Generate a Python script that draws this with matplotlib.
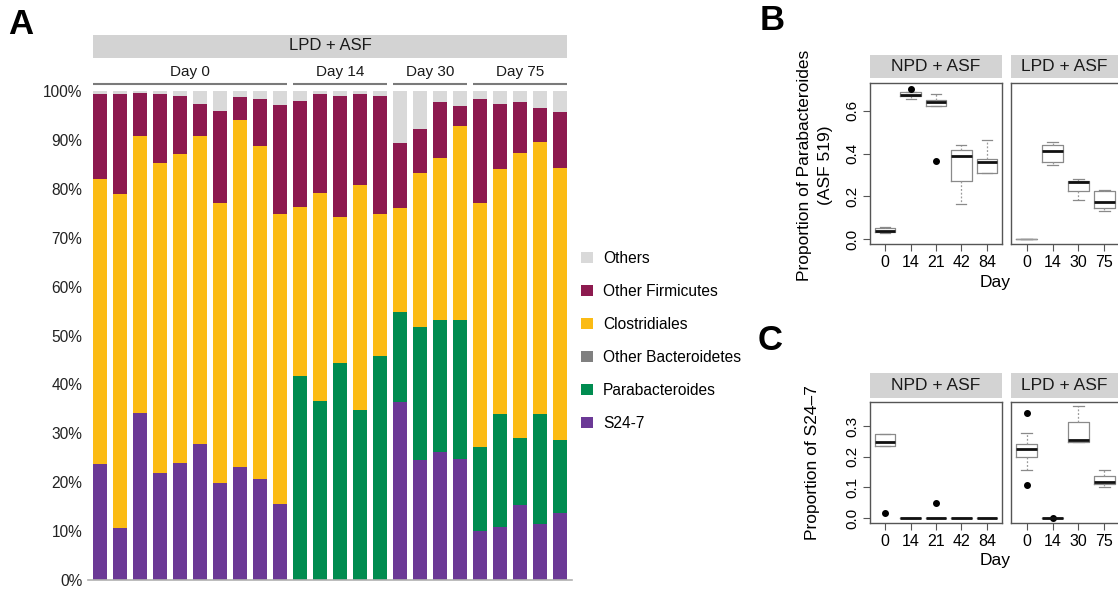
import matplotlib
matplotlib.use("Agg")
import matplotlib.pyplot as plt
import matplotlib.transforms as mtransforms
from matplotlib.patches import Rectangle

plt.rcParams['font.family'] = ['Liberation Sans', 'DejaVu Sans']

W, H = 1118, 592

# --- Panel A: relative abundance per mouse (percent of reads) ---
day_groups = ['Day 0', 'Day 14', 'Day 30', 'Day 75']
group_sizes = [10, 5, 4, 5]

s24_7 = [23.7, 10.6, 34.2, 21.9, 23.9, 27.8, 19.8, 23.1, 20.7, 15.5,
         0.0, 0.0, 0.0, 0.0, 0.0,
         36.4, 24.5, 26.1, 24.7,
         10.0, 10.9, 15.4, 11.4, 13.8]
parabacteroides = [0.0, 0.0, 0.0, 0.0, 0.0, 0.0, 0.0, 0.0, 0.0, 0.0,
                   41.7, 36.7, 44.3, 34.8, 45.9,
                   18.5, 27.3, 27.0, 28.4,
                   17.3, 23.1, 13.6, 22.6, 14.9]
other_bacteroidetes = [0.0, 0.0, 0.0, 0.0, 0.0, 0.0, 0.0, 0.0, 0.0, 0.0,
                       0.0, 0.0, 0.0, 0.0, 0.0,
                       0.0, 0.0, 0.0, 0.0,
                       0.0, 0.0, 0.0, 0.0, 0.0]
clostridiales = [58.3, 68.3, 56.6, 63.3, 63.2, 63.0, 57.2, 71.0, 68.1, 59.4,
                 34.5, 42.5, 30.0, 45.9, 29.0,
                 21.1, 31.5, 33.2, 39.7,
                 49.7, 50.0, 58.4, 55.6, 55.5]
other_firmicutes = [17.3, 20.4, 8.8, 14.1, 11.8, 6.5, 19.0, 4.7, 9.6, 22.3,
                    21.8, 20.2, 24.7, 18.7, 24.0,
                    13.3, 9.0, 11.5, 4.2,
                    21.4, 13.4, 10.4, 6.9, 11.6]
others = [0.7, 0.7, 0.4, 0.7, 1.1, 2.7, 4.0, 1.2, 1.6, 2.8,
          2.0, 0.6, 1.0, 0.6, 1.1,
          10.7, 7.7, 2.2, 3.0,
          1.6, 2.6, 2.2, 3.5, 4.2]

taxa = ['S24-7', 'Parabacteroides', 'Other Bacteroidetes',
        'Clostridiales', 'Other Firmicutes', 'Others']
taxa_values = [s24_7, parabacteroides, other_bacteroidetes,
               clostridiales, other_firmicutes, others]
taxa_colors = ['#6b3996', '#008c50', '#808080', '#fbbb14', '#8d1a4f', '#d9d9d9']

# --- Panel B: Parabacteroides proportion, box stats per day ---
npd_days = ['0', '14', '21', '42', '84']
lpd_days = ['0', '14', '30', '75']

b_npd_med = [0.040, 0.675, 0.640, 0.390, 0.363]
b_npd_q1 = [0.033, 0.667, 0.623, 0.270, 0.308]
b_npd_q3 = [0.053, 0.690, 0.651, 0.418, 0.377]
b_npd_lo = [0.030, 0.656, 0.623, 0.165, 0.308]
b_npd_hi = [0.059, 0.690, 0.680, 0.440, 0.464]
b_npd_out = [[], [0.703], [0.365], [], []]

b_lpd_med = [0.0, 0.414, 0.268, 0.173]
b_lpd_q1 = [0.0, 0.363, 0.226, 0.146]
b_lpd_q3 = [0.0, 0.441, 0.273, 0.226]
b_lpd_lo = [0.0, 0.347, 0.184, 0.132]
b_lpd_hi = [0.0, 0.456, 0.282, 0.230]
b_lpd_out = [[], [], [], []]

# --- Panel C: S24-7 proportion ---
c_npd_med = [0.249, 0.0, 0.0, 0.0, 0.0]
c_npd_q1 = [0.236, 0.0, 0.0, 0.0, 0.0]
c_npd_q3 = [0.273, 0.0, 0.0, 0.0, 0.0]
c_npd_lo = [0.236, 0.0, 0.0, 0.0, 0.0]
c_npd_hi = [0.273, 0.0, 0.0, 0.0, 0.0]
c_npd_out = [[0.016], [], [0.049], [], []]

c_lpd_med = [0.227, 0.0, 0.254, 0.117]
c_lpd_q1 = [0.200, 0.0, 0.247, 0.110]
c_lpd_q3 = [0.243, 0.0, 0.313, 0.139]
c_lpd_lo = [0.157, 0.0, 0.247, 0.103]
c_lpd_hi = [0.279, 0.0, 0.365, 0.157]
c_lpd_out = [[0.343, 0.107], [0.0], [], []]


def px_rect(l, t, r, b):
    return [l / W, 1 - b / H, (r - l) / W, (b - t) / H]


fig = plt.figure(figsize=(W / 100, H / 100), dpi=100)
fig.patch.set_facecolor('white')

# ---------------- Panel A ----------------
axA = fig.add_axes(px_rect(88, 91, 572, 580))
n = len(s24_7)
x = list(range(n))
bottom = [0.0] * n
for name, vals, col in zip(taxa, taxa_values, taxa_colors):
    axA.bar(x, vals, bottom=bottom, width=0.7, color=col, label=name, linewidth=0)
    bottom = [b + v for b, v in zip(bottom, vals)]

axA.set_xlim(-0.6, n - 0.4)
axA.set_ylim(0, 100)
axA.set_yticks(range(0, 101, 10))
axA.set_yticklabels([f'{v}%' for v in range(0, 101, 10)])
axA.set_xticks([])
for s in ['top', 'right', 'left']:
    axA.spines[s].set_visible(False)
axA.spines['bottom'].set_color('#b0b0b0')
axA.spines['bottom'].set_linewidth(1.2)
axA.tick_params(axis='y', length=0, pad=4, labelsize=11.2, labelcolor='#222222')

trans = mtransforms.blended_transform_factory(axA.transData, fig.transFigure)
# top strip
axA.add_patch(Rectangle((-0.35, 1 - 57.5 / H), n - 0.3, 23 / H, transform=trans,
                        color='#d3d3d3', clip_on=False, linewidth=0))
axA.text((n - 1) / 2, 1 - 46 / H, 'LPD + ASF', transform=trans, ha='center',
         va='center', fontsize=12, color='#1a1a1a')
start = 0
for g, size in zip(day_groups, group_sizes):
    x0, x1 = start - 0.35, start + size - 1 + 0.35
    axA.plot([x0, x1], [1 - 84 / H] * 2, transform=trans, color='#7a7a7a',
             lw=1.5, clip_on=False, solid_capstyle='butt')
    axA.text((x0 + x1) / 2, 1 - 72 / H, g, transform=trans, ha='center',
             va='center', fontsize=11, color='#1a1a1a')
    start += size

handles, labels = axA.get_legend_handles_labels()
fig.legend(handles[::-1], labels[::-1], loc='upper left',
           bbox_to_anchor=(581 / W, 1 - 251 / H), frameon=False,
           fontsize=11.2, handlelength=0.75, handleheight=0.75,
           handletextpad=0.65, labelspacing=1.16, borderpad=0, borderaxespad=0)

fig.text(8 / W, 1 - 25 / H, 'A', fontsize=25, fontweight='bold', va='center')
fig.text(760 / W, 1 - 20 / H, 'B', fontsize=25, fontweight='bold', va='center')
fig.text(758 / W, 1 - 341 / H, 'C', fontsize=25, fontweight='bold', va='center')


def box_stats(med, q1, q3, lo, hi, out):
    return [dict(med=m, q1=a, q3=b, whislo=l, whishi=h, fliers=f)
            for m, a, b, l, h, f in zip(med, q1, q3, lo, hi, out)]


def facet(rect, strip, stats, days, title, ylim, yticks, show_y):
    ax = fig.add_axes(px_rect(*rect))
    pos = list(range(1, len(days) + 1))
    parts = ax.bxp(stats, positions=pos, widths=0.8, capwidths=0.4, showfliers=True,
                   boxprops=dict(color='#8a8a8a', lw=0.9),
                   medianprops=dict(color='#111111', lw=2),
                   whiskerprops=dict(color='#9a9a9a', lw=0.9, linestyle=(0, (1.5, 1.5))),
                   capprops=dict(color='#8a8a8a', lw=0.9),
                   flierprops=dict(marker='o', markersize=4, markerfacecolor='black',
                                   markeredgecolor='black'))
    ax.set_xlim(0.4, len(days) + 0.6)
    ax.set_ylim(*ylim)
    ax.set_xticks(pos)
    ax.set_xticklabels(days)
    for s in ax.spines.values():
        s.set_color('#555555')
        s.set_linewidth(1.0)
    ax.tick_params(axis='x', length=5, width=0.8, color='#555555', pad=3,
                   labelsize=11.5)
    if show_y:
        ax.set_yticks(yticks)
        ax.set_yticklabels([f'{v:.1f}' for v in yticks], rotation=90, va='center')
        ax.tick_params(axis='y', length=5, width=0.8, color='#555555', pad=3,
                       labelsize=11)
    else:
        ax.set_yticks([])
    l, t, r, b = rect
    st, sb = strip
    fig.add_artist(Rectangle((l / W, 1 - sb / H), (r - l) / W, (sb - st) / H,
                             transform=fig.transFigure, color='#d3d3d3', lw=0))
    fig.text((l + min(r, W)) / 2 / W, 1 - (st + sb) / 2 / H,
             title, ha='center', va='center', fontsize=12.5, color='#1a1a1a')
    return ax, parts


b_ylim = (-0.022, 0.73)
c_ylim = (-0.016, 0.379)
axB1, _ = facet((870, 83, 1002, 244), (55, 78),
                box_stats(b_npd_med, b_npd_q1, b_npd_q3, b_npd_lo, b_npd_hi, b_npd_out),
                npd_days, 'NPD + ASF', b_ylim, [0.0, 0.2, 0.4, 0.6], True)
axB2, partsB2 = facet((1011, 83, 1120, 244), (55, 78),
                      box_stats(b_lpd_med, b_lpd_q1, b_lpd_q3, b_lpd_lo, b_lpd_hi, b_lpd_out),
                      lpd_days, 'LPD + ASF', b_ylim, [], False)
# the all-zero day 0 group is drawn as a thin grey line in the original
partsB2['medians'][0].set_color('#9a9a9a')
partsB2['medians'][0].set_linewidth(0.9)
axC1, _ = facet((870, 402, 1002, 523), (373, 398),
                box_stats(c_npd_med, c_npd_q1, c_npd_q3, c_npd_lo, c_npd_hi, c_npd_out),
                npd_days, 'NPD + ASF', c_ylim, [0.0, 0.1, 0.2, 0.3], True)
axC2, _ = facet((1011, 402, 1120, 523), (373, 398),
                box_stats(c_lpd_med, c_lpd_q1, c_lpd_q3, c_lpd_lo, c_lpd_hi, c_lpd_out),
                lpd_days, 'LPD + ASF', c_ylim, [], False)

fig.text(815 / W, 1 - 165 / H, 'Proportion of Parabacteroides\n(ASF 519)',
         rotation=90, ha='center', va='center', fontsize=12.5,
         multialignment='center', linespacing=1.45)
fig.text(813 / W, 1 - 463 / H, 'Proportion of S24\u20137', rotation=90,
         ha='center', va='center', fontsize=12.5)
fig.text(995 / W, 1 - 283 / H, 'Day', ha='center', va='center', fontsize=12.5)
fig.text(995 / W, 1 - 560 / H, 'Day', ha='center', va='center', fontsize=12.5)

fig.savefig('out.png', dpi=100)
